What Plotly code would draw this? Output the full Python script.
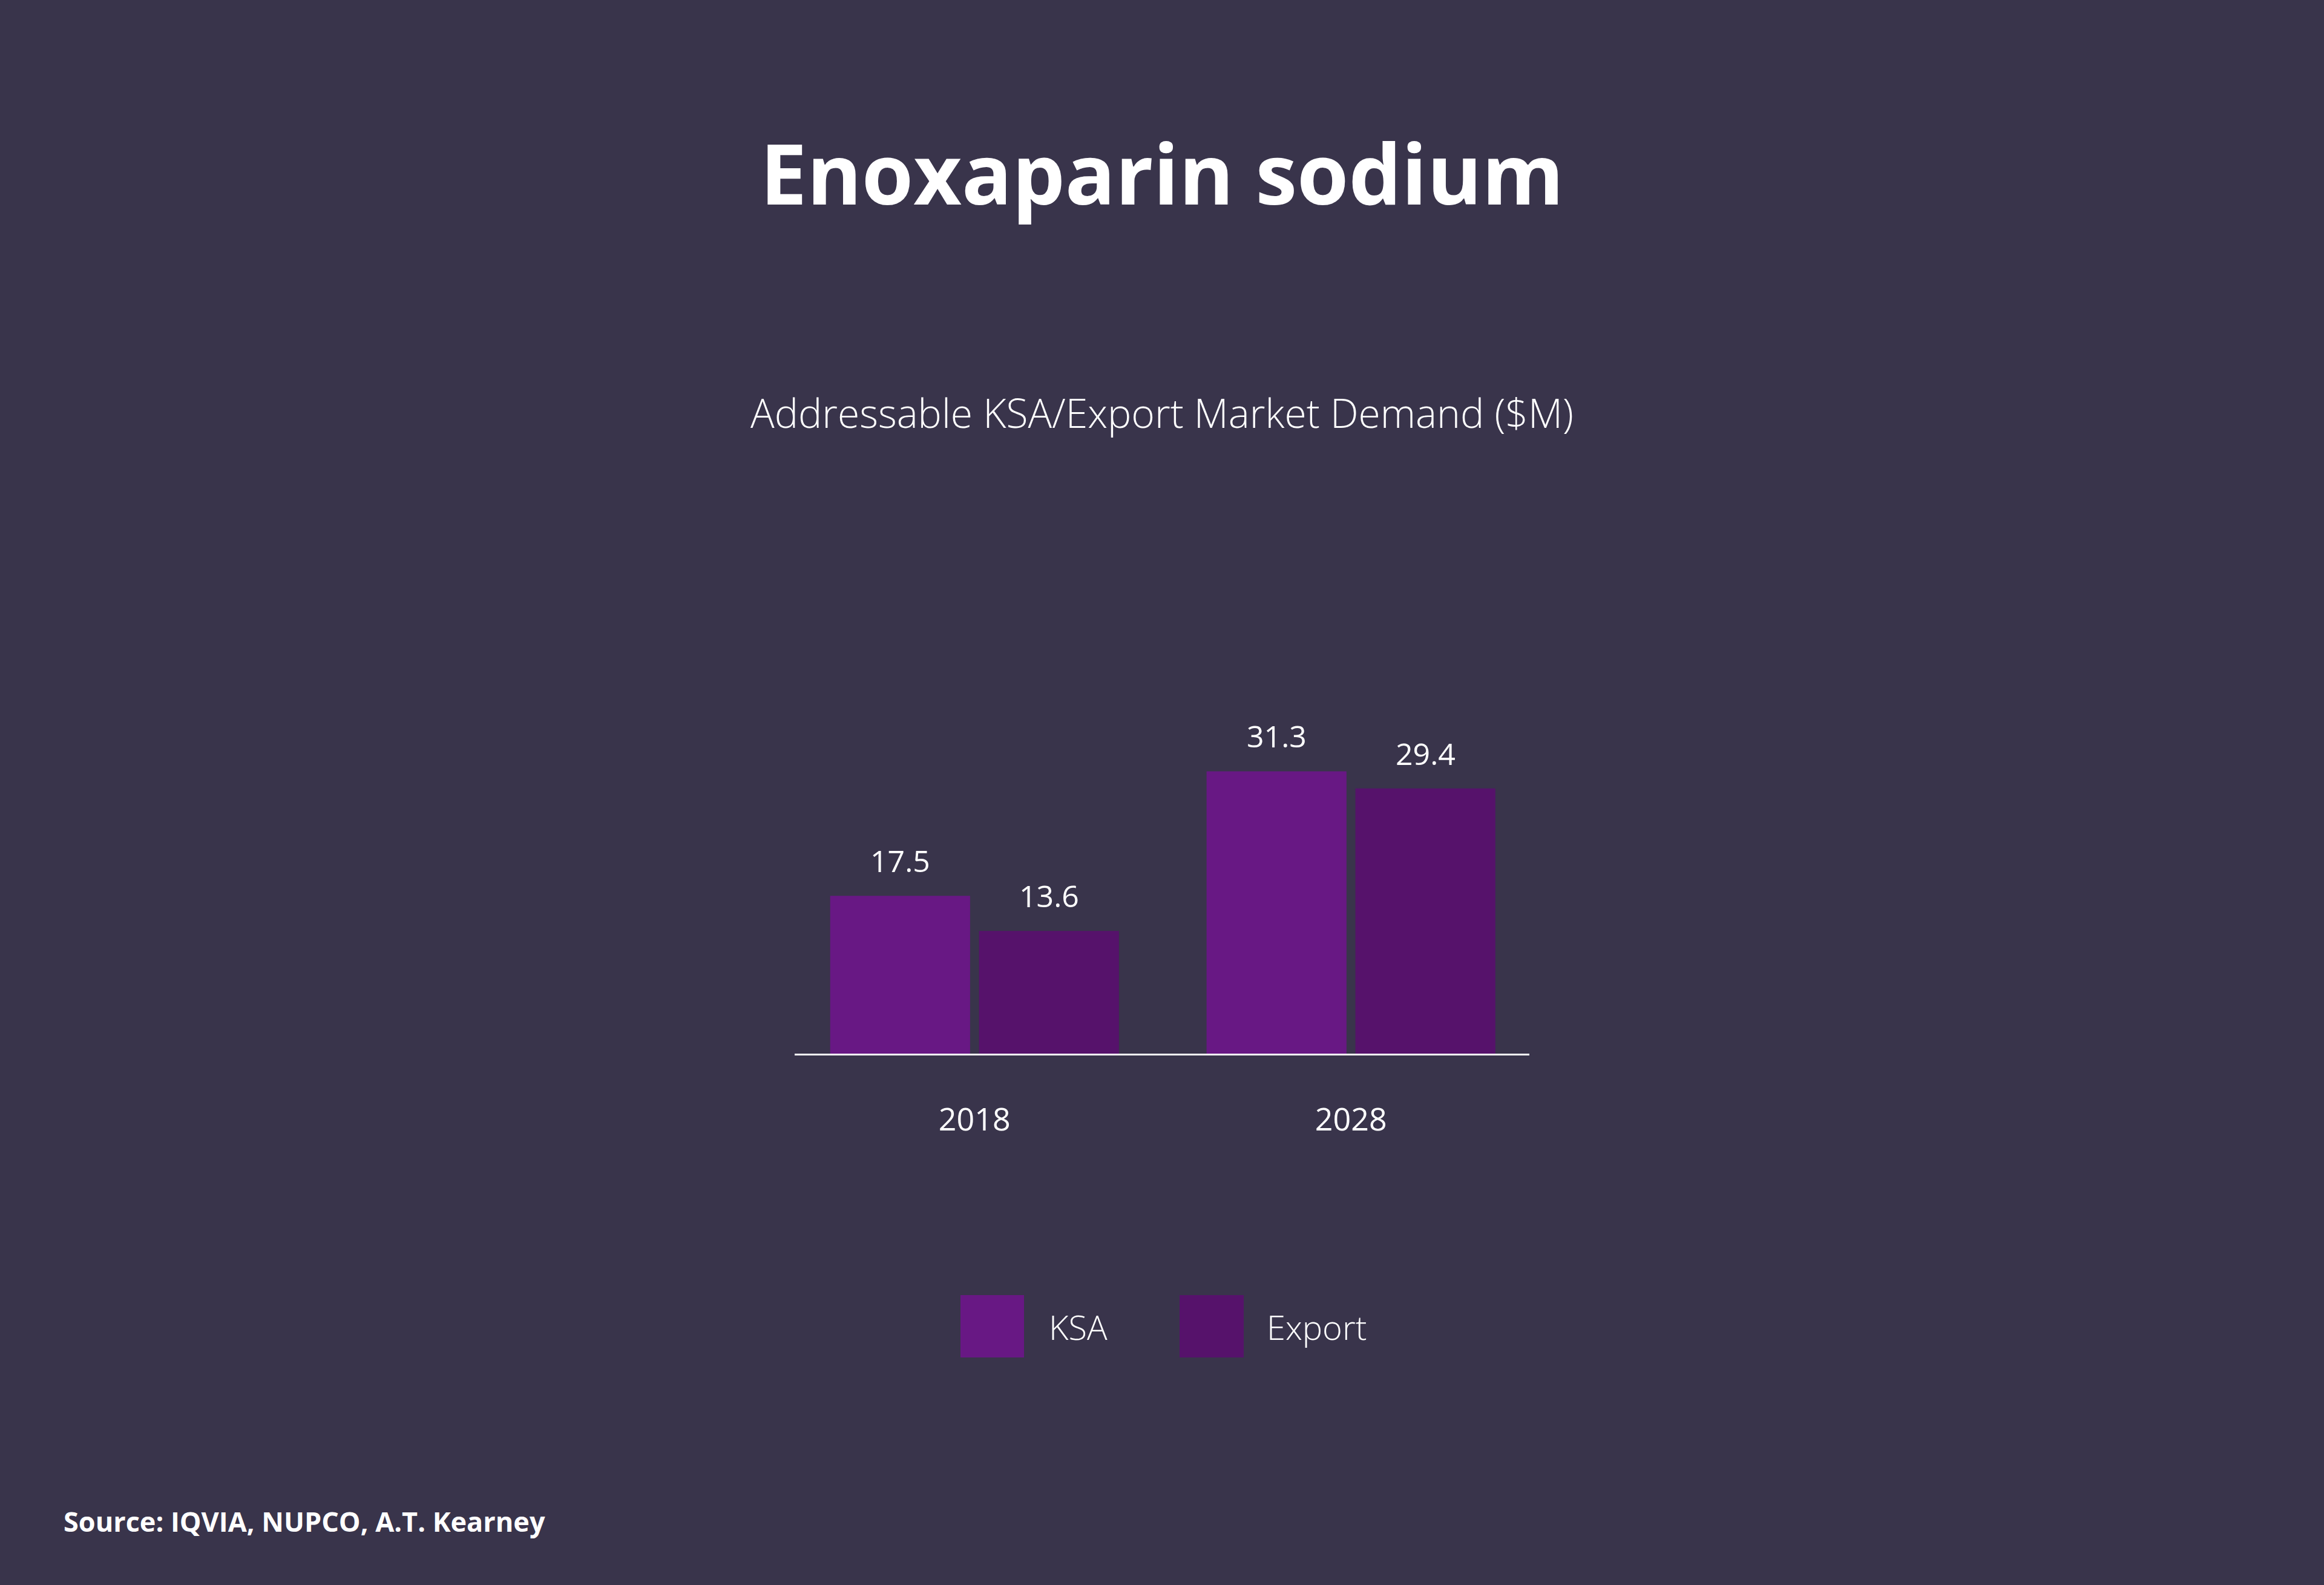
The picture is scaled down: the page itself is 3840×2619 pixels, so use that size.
import plotly.graph_objects as go

# ---- data ----
years = ["2018", "2028"]
ksa_values = [17.5, 31.3]
export_values = [13.6, 29.4]
series_names = ["KSA", "Export"]
title_text = "Enoxaparin sodium"
subtitle_text = "Addressable KSA/Export Market Demand ($M)"
source_text = "Source: IQVIA, NUPCO, A.T. Kearney"

# ---- styling / layout constants ----
W, H = 3840, 2619
BG = "#39344B"
C_KSA = "#681884"
C_EXP = "#56126B"
FONT = "Open Sans"
PL, PR = 1313, 2527      # plot area left/right (px)
PT, PB = 1100, 1741      # plot area top/bottom (px)
BAR_OFFSET = 123         # px offset of each bar from category centre


def px_x(x):
    return (x - PL) / (PR - PL)


def px_y(y):
    return (PB - y) / (PB - PT)


fig = go.Figure()
fig.add_trace(go.Bar(x=years, y=ksa_values, name=series_names[0],
                     marker=dict(color=C_KSA, line=dict(width=0)), showlegend=False))
fig.add_trace(go.Bar(x=years, y=export_values, name=series_names[1],
                     marker=dict(color=C_EXP, line=dict(width=0)), showlegend=False))

annotations = []
# value labels (category index positions on the x axis)
for vals, shift in ((ksa_values, -BAR_OFFSET), (export_values, BAR_OFFSET)):
    for i, v in enumerate(vals):
        annotations.append(dict(x=i, y=v, xref="x", yref="y", text=f"{v:.1f}",
                                showarrow=False, xshift=shift, yshift=22,
                                yanchor="bottom", xanchor="center",
                                font=dict(family=FONT, size=50, color="white")))

# subtitle
annotations.append(dict(x=0.5, y=px_y(681), xref="paper", yref="paper", text=subtitle_text,
                        showarrow=False, xanchor="center", yanchor="middle",
                        font=dict(family=FONT, size=66, color="white", weight=300)))
# source
annotations.append(dict(x=px_x(103), y=px_y(2513), xref="paper", yref="paper", text=source_text,
                        showarrow=False, xanchor="left", yanchor="middle",
                        font=dict(family=FONT, size=45, color="white", weight="bold")))

# legend (manual, large swatches)
shapes = []
legend_items = [(series_names[0], C_KSA, 1587, 1692, 1731),
                (series_names[1], C_EXP, 1949, 2055, 2091)]
for name, col, x0, x1, tx in legend_items:
    shapes.append(dict(type="rect", xref="paper", yref="paper",
                       x0=px_x(x0), x1=px_x(x1), y0=px_y(2243), y1=px_y(2140),
                       fillcolor=col, line=dict(width=0)))
    annotations.append(dict(x=px_x(tx), y=px_y(2192), xref="paper", yref="paper", text=name,
                            showarrow=False, xanchor="left", yanchor="middle",
                            font=dict(family=FONT, size=56, color="white", weight=300)))

fig.update_layout(
    width=W, height=H,
    paper_bgcolor=BG, plot_bgcolor=BG,
    margin=dict(l=PL, r=W - PR, t=PT, b=H - PB, pad=0),
    barmode="group", bargap=0.209, bargroupgap=0.06,
    title=dict(text=f"<b>{title_text}</b>", x=0.5, xref="container", xanchor="center",
               y=1 - 290 / H, yref="container", yanchor="middle",
               font=dict(family=FONT, size=138, color="white")),
    xaxis=dict(type="category", range=[-0.478, 1.474], showgrid=False, zeroline=False,
               showline=True, linecolor="white", linewidth=3,
               ticks="outside", ticklen=62, tickcolor="rgba(0,0,0,0)",
               tickfont=dict(family=FONT, size=52, color="white")),
    yaxis=dict(range=[0, 43], visible=False, showgrid=False, zeroline=False),
    annotations=annotations, shapes=shapes,
    showlegend=False,
)

fig.write_html("out.html",
               config={"displayModeBar": False},
               post_script="document.body.style.margin='0';"
                           "document.body.style.background='" + BG + "';")
